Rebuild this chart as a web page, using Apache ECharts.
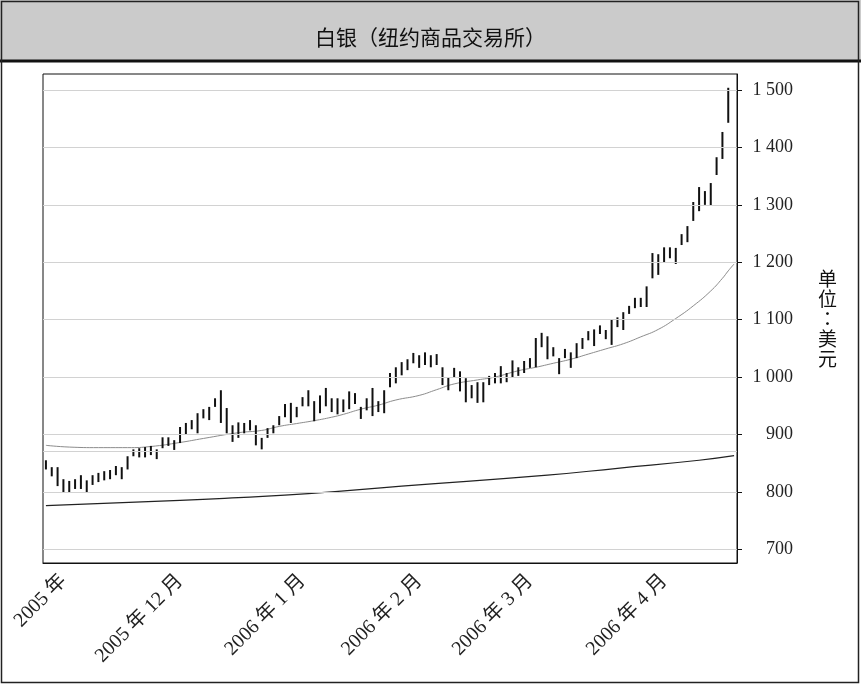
<!DOCTYPE html>
<html><head><meta charset="utf-8">
<script src="https://cdn.jsdelivr.net/npm/echarts@6/dist/echarts.min.js"></script>
<style>html,body{margin:0;padding:0;background:#fff}#c{width:861px;height:686px}</style>
</head><body><div id="c"></div>
<script>
// trading days shown on the axis
const daysOct05 = [27,28,31];
const daysNov05 = [1,2,3,4,7,8,9,10,11,14,15,16,17,18,21,22,23,28,29,30];
const daysDec05 = [1,2,5,6,7,8,9,12,13,14,15,16,19,20,21,22,23,27,28,29,30];
const daysJan06 = [3,4,5,6,9,10,11,12,13,17,18,19,20,23,24,25,26,27,30,31];
const daysFeb06 = [1,2,3,6,7,8,9,10,13,14,15,16,17,21,22,23,24,27,28];
const daysMar06 = [1,2,3,6,7,8,9,10,13,14,15,16,17,20,21,22,23,24,27,28,29,30,31];
const daysApr06 = [3,4,5,6,7,10,11,12,13,17,18,19,20];

// x-axis tick labels and their category positions
const tickIdx = [3, 23, 44, 64, 83, 106];
const tickLabels = ['2005 年', '2005 年 12 月', '2006 年 1 月', '2006 年 2 月', '2006 年 3 月', '2006 年 4 月'];

// y-axis tick values
const yTicks = [700, 800, 900, 1000, 1100, 1200, 1300, 1400, 1500];
const gridValues = [700, 800, 870, 900, 1000, 1100, 1200, 1300, 1400, 1500];

// daily highs / lows
const highs = [855,843,843,822,819,822,829,820,829,833,
 836,838,845,843,862,874,876,878,880,874,
 895,895,890,913,920,925,937,944,948,963,
 977,946,916,921,920,925,916,894,911,916,
 932,953,955,948,965,977,958,968,981,963,
 963,961,975,972,948,963,981,958,977,1007,
 1017,1026,1031,1042,1038,1043,1038,1040,1017,1000,
 1016,1010,998,986,991,991,1002,1007,1019,1007,
 1029,1017,1028,1033,1068,1077,1071,1052,1033,1049,
 1043,1059,1068,1080,1083,1090,1082,1101,1104,1113,
 1124,1138,1138,1158,1216,1214,1226,1226,1225,1249,
 1263,1305,1331,1324,1338,1383,1427,1504];
const lows = [839,827,810,798,798,805,805,799,812,817,
 820,822,829,822,839,862,860,860,864,857,
 876,880,873,885,899,909,902,928,925,948,
 920,902,887,894,902,907,881,874,894,902,
 916,930,920,930,949,949,923,937,949,939,
 935,939,944,953,927,942,932,939,937,982,
 989,1003,1012,1024,1016,1021,1017,1021,986,977,
 1000,975,956,963,955,956,986,989,989,991,
 1000,1002,1007,1016,1017,1052,1031,1036,1005,1033,
 1016,1033,1049,1064,1054,1075,1066,1056,1087,1082,
 1110,1120,1122,1122,1172,1178,1199,1207,1197,1230,
 1235,1272,1289,1300,1298,1352,1380,1443];

// moving averages (category index, value)
const maMidIdx = [0,4,9,14,18,23,27,33,37,40,43,46,49,51,54,57,60,64,67,70,74,77,81,84,87,90,93,96,99,102,105,108,111,114,116,117,118];
const maMidVal = [881,878,877,877,879,886,893,903,907,914,919,924,930,935,944,951,960,968,978,988,995,1000,1011,1017,1024,1031,1040,1049,1058,1070,1083,1102,1124,1150,1172,1185,1197];
const maLongIdx = [0,23,33,45,61,86,98,112,118];
const maLongVal = [776,785,790,797,810,829,841,855,863];

const pad = n => (n < 10 ? '0' : '') + n;
const categories = [].concat(
  daysOct05.map(d => '2005-10-' + pad(d)),
  daysNov05.map(d => '2005-11-' + pad(d)),
  daysDec05.map(d => '2005-12-' + pad(d)),
  daysJan06.map(d => '2006-01-' + pad(d)),
  daysFeb06.map(d => '2006-02-' + pad(d)),
  daysMar06.map(d => '2006-03-' + pad(d)),
  daysApr06.map(d => '2006-04-' + pad(d))
);

const barData = highs.map((h, i) => [i, lows[i], h]);
const midData = maMidIdx.map((x, i) => [x, maMidVal[i]]);
const longData = maLongIdx.map((x, i) => [x, maLongVal[i]]);
const showTick = idx => tickIdx.indexOf(idx) >= 0;

const chart = echarts.init(document.getElementById('c'), null, {renderer: 'canvas'});
chart.setOption({
  animation: false,
  backgroundColor: '#fff',
  title: {
    text: '白银（纽约商品交易所）',
    left: 'center', top: 22,
    textStyle: {fontSize: 21, fontWeight: 'normal', color: '#111', fontFamily: 'Noto Sans CJK SC'}
  },
  graphic: [
    {type: 'rect', z: -10, shape: {x: 0, y: 0, width: 861, height: 61}, style: {fill: '#cbcbcb'}},
    {type: 'line', z: -5, shape: {x1: 0, y1: 61, x2: 861, y2: 61}, style: {stroke: '#111', lineWidth: 3}},
    {type: 'rect', z: -5, shape: {x: 1.5, y: 1.5, width: 857, height: 681}, style: {fill: 'none', stroke: '#222', lineWidth: 1.5}}
  ],
  grid: {left: 43, right: 124, top: 74, bottom: 123, show: true, borderColor: '#111', borderWidth: 1, backgroundColor: 'transparent'},
  xAxis: {
    type: 'category', data: categories, boundaryGap: true,
    axisLine: {lineStyle: {color: '#111', width: 1}},
    axisTick: {interval: showTick, alignWithLabel: true, length: 5, lineStyle: {color: '#111'}},
    axisLabel: {
      interval: showTick, rotate: 45, margin: 15,
      formatter: (v, idx) => tickLabels[tickIdx.indexOf(idx)] || '',
      fontSize: 20, color: '#222', fontFamily: "'Liberation Serif', 'Noto Sans CJK SC'"
    },
    splitLine: {show: false}
  },
  yAxis: {
    type: 'value', position: 'right', min: 676, max: 1528, scale: true,
    axisLine: {show: true, lineStyle: {color: '#111', width: 1}},
    axisTick: {show: true, customValues: yTicks, length: 5, lineStyle: {color: '#111'}},
    axisLabel: {
      customValues: yTicks, margin: 56, align: 'right',
      formatter: v => v >= 1000 ? Math.floor(v / 1000) + ' ' + String(v % 1000).padStart(3, '0') : String(v),
      fontSize: 18, color: '#222', fontFamily: "'Liberation Serif'"
    },
    splitLine: {show: false},
    name: '单\n位\n：\n美\n元', nameLocation: 'middle', nameRotate: 0, nameGap: 81,
    nameTextStyle: {fontSize: 19, lineHeight: 20, color: '#111', fontFamily: 'Noto Sans CJK TC'}
  },
  series: [
    {
      type: 'line', name: 'grid', data: [], silent: true,
      markLine: {
        silent: true, symbol: 'none', label: {show: false}, animation: false,
        lineStyle: {color: '#d2d2d2', width: 1, type: 'solid'},
        data: gridValues.map(v => ({yAxis: v}))
      }
    },
    {
      type: 'line', name: 'MA long', data: longData, showSymbol: false, smooth: true, z: 3,
      lineStyle: {color: '#222', width: 1.2}
    },
    {
      type: 'line', name: 'MA mid', data: midData, showSymbol: false, smooth: true, z: 3,
      lineStyle: {color: '#8c8c8c', width: 1}
    },
    {
      type: 'custom', name: '白银', data: barData, z: 4,
      encode: {x: 0, y: [1, 2]},
      renderItem: (params, api) => {
        const x = api.value(0);
        const lo = api.coord([x, api.value(1)]);
        const hi = api.coord([x, api.value(2)]);
        return {type: 'line', shape: {x1: lo[0], y1: lo[1], x2: hi[0], y2: hi[1]}, style: {stroke: '#111', lineWidth: 2}};
      }
    }
  ]
});
</script>
</body></html>
